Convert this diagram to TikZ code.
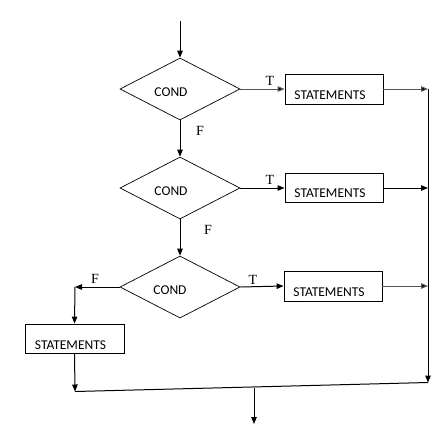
\documentclass[tikz,border=0pt]{standalone}
\usepackage{fontspec}
\setmainfont{Liberation Serif}
\newfontfamily\calfont{Carlito}
\usetikzlibrary{shapes.geometric,arrows.meta}
\definecolor{lgray}{HTML}{555555}
\tikzset{
  conn/.style={line width=1pt,draw=black,-{Triangle[length=7pt,width=5.5pt,fill=black]}},
  plain/.style={line width=1pt,draw=black},
  cond/.style={diamond,draw,line width=0.7pt,minimum width=120pt,minimum height=62pt,inner sep=0pt},
  stbox/.style={rectangle,draw,line width=0.9pt,inner sep=0pt},
  boxtxt/.style={font=\calfont\fontsize{13.5}{15}\selectfont,inner sep=0pt},
  tf/.style={font=\fontsize{14}{16}\selectfont,inner sep=0pt}
}
\begin{document}
\begin{tikzpicture}[x=1pt,y=-1pt]
\useasboundingbox (0,0) rectangle (444,424);
% decision nodes
\node[cond] (d1) at (180,89) {};
\node[cond] (d2) at (180,188) {};
\node[cond] (d3) at (180,287) {};
\node[boxtxt] (c1) at (171,92) {COND};
\node[boxtxt] (c2) at (171,191) {COND};
\node[boxtxt] (c3) at (170,290) {COND};
% statement boxes
\node[stbox,minimum width=98pt,minimum height=30pt] (b1) at (334,89) {};
\node[stbox,minimum width=98pt,minimum height=29pt] (b2) at (334,188) {};
\node[stbox,minimum width=98pt,minimum height=30pt] (b3) at (333,286) {};
\node[stbox,minimum width=99pt,minimum height=29pt] (b4) at (74.5,338.5) {};
\node[boxtxt] (s1) at (330,95) {STATEMENTS};
\node[boxtxt] (s2) at (330,193) {STATEMENTS};
\node[boxtxt] (s3) at (329,292) {STATEMENTS};
\node[boxtxt] (s4) at (70.5,345) {STATEMENTS};
% labels
\node[tf] (t1) at (270,81) {T};
\node[tf] (t2) at (270,180) {T};
\node[tf] (t3) at (253,280) {T};
\node[tf] (f1) at (200,131) {F};
\node[tf] (f2) at (208,230) {F};
\node[tf] (f3) at (95,279) {F};
% coordinates
\coordinate (top) at (180,21);
\coordinate (r1) at (428,89);
\coordinate (r2) at (428,188);
\coordinate (r3) at (428,286);
\coordinate (rb) at (428,382.5);
\coordinate (lf) at (75,287);
\coordinate (lb) at (75,391.5);
\coordinate (mb) at (254,387.5);
\coordinate (out) at (254,424);
% connectors
\draw[conn] (top) -- (d1.north);
\draw[conn,draw=lgray] (d1.east) -- (b1.west);
\draw[conn] (d1.south) -- (d2.north);
\draw[conn] (d2.east) -- (b2.west);
\draw[conn] (d2.south) -- (d3.north);
\draw[conn] (d3.east) -- (b3.west);
\draw[conn] (d3.west) -- (lf);
\draw[conn] (lf) -- (b4.north);
\draw[conn,draw=lgray] (b1.east) -- (r1);
\draw[conn] (b2.east) -- (r2);
\draw[conn,draw=lgray] (b3.east) -- (r3);
\draw[conn] (r1) -- (rb);
\draw[conn] (b4.south) -- (lb);
\draw[plain] (lb) -- (rb);
\draw[conn] (mb) -- (out);
\end{tikzpicture}
\end{document}
